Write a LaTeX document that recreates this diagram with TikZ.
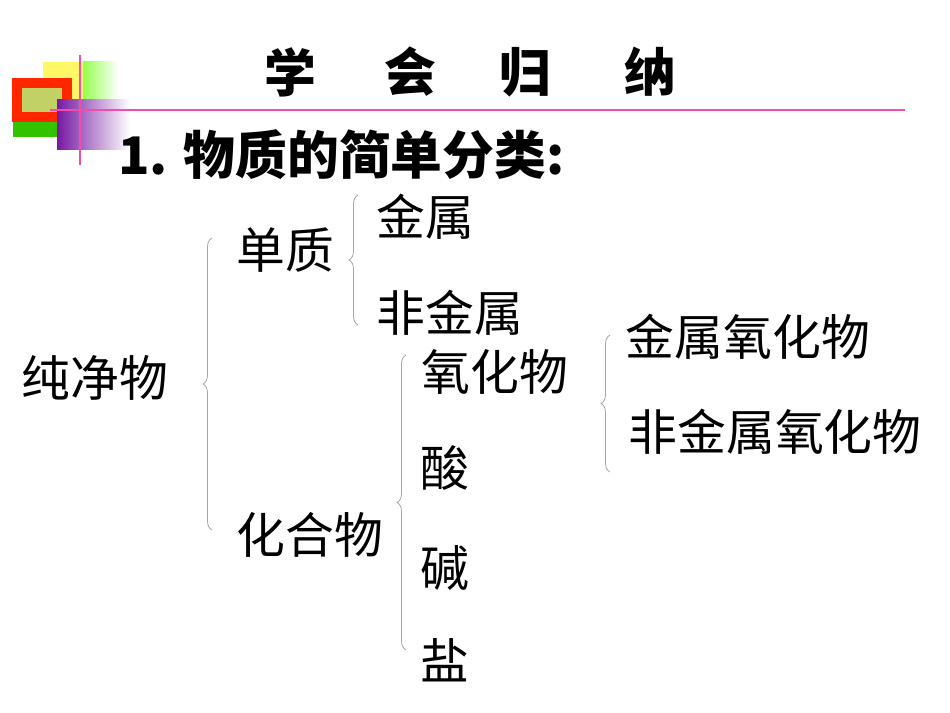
\documentclass[tikz,border=0pt]{standalone}
\usepackage{fontspec}
\newfontfamily\cjk{Noto Sans CJK SC}
\usetikzlibrary{decorations.pathreplacing}
\tikzset{
  lbl/.style={font=\cjk\fontsize{49}{52}\selectfont, inner sep=0pt},
  ttl/.style={font=\cjk\bfseries\fontsize{52}{56}\selectfont, inner sep=0pt},
  brc/.style={draw=gray!70, line width=0.8bp, decorate, decoration={brace, mirror, amplitude=9bp}}
}
\begin{document}
\begin{tikzpicture}[x=1bp,y=-1bp]
\useasboundingbox (0,0) rectangle (950,713);
% decoration
\fill[yellow!60!white] (43,62) rectangle (83,102);
\shade[left color=green!60!yellow!70, right color=white] (83,62) rectangle (118,100);
\fill[green!70!black!80!yellow] (13,120) rectangle (72,137);
\fill[red!70!orange] (12,78) rectangle (72,122);
\fill[orange!60!green!60!white] (22,88) rectangle (62,112);
\shade[left color=violet!80!blue!90!white, right color=white] (57,100) rectangle (130,150);
\draw[magenta!70, line width=1.5bp] (80,55) -- (80,165);
\draw[magenta!70, line width=1.5bp] (50,110) -- (905,110);
% title
\node[ttl] (t1) at (290,72) {学};
\node[ttl] (t2) at (410,72) {会};
\node[ttl] (t3) at (525,72) {归};
\node[ttl] (t4) at (650,72) {纳};
\node[lbl, anchor=west, font=\cjk\bfseries\fontsize{52}{56}\selectfont] (h) at (118,155) {1. 物质的简单分类:};
% labels
\node[lbl] (a) at (95,378) {纯净物};
\node[lbl] (b) at (285,250) {单质};
\node[lbl] (c) at (310,535) {化合物};
\node[lbl] (d) at (425,217) {金属};
\node[lbl] (e) at (450,313) {非金属};
\node[lbl] (f) at (495,372) {氧化物};
\node[lbl] (g) at (445,468) {酸};
\node[lbl] (i) at (445,568) {碱};
\node[lbl] (j) at (445,660) {盐};
\node[lbl] (k) at (748,337) {金属氧化物};
\node[lbl] (l) at (775,432) {非金属氧化物};
% braces
\draw[brc] (212,238) -- (212,530);
\draw[brc] (358,195) -- (358,325);
\draw[brc] (406,355) -- (406,650);
\draw[brc] (610,335) -- (610,472);
\end{tikzpicture}
\end{document}
